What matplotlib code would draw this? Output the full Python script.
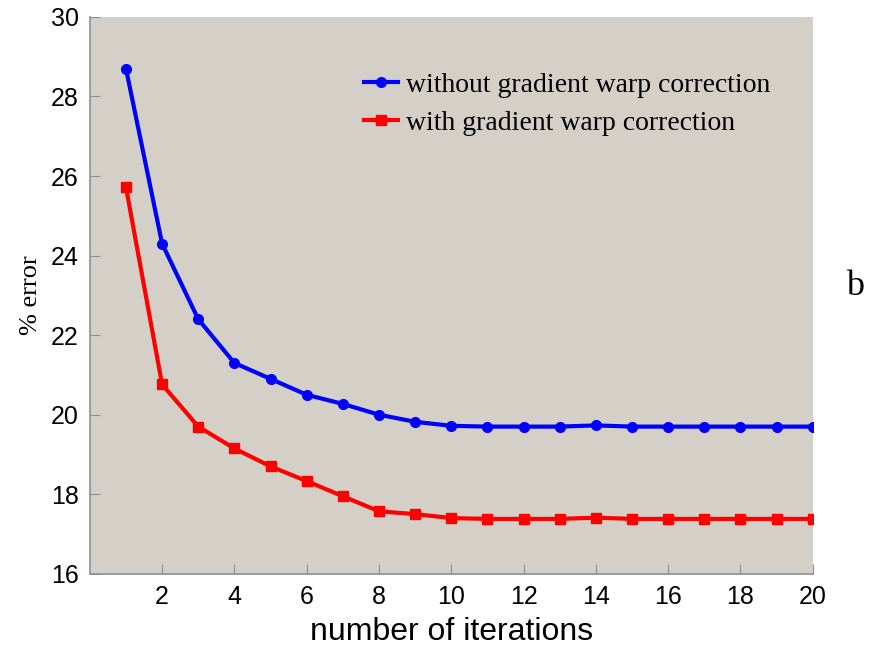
import matplotlib
matplotlib.use("Agg")
import matplotlib.pyplot as plt

iterations = list(range(1, 21))
without_gwc = [28.7, 24.3, 22.4, 21.3, 20.9, 20.5, 20.27, 20.0, 19.82, 19.72,
               19.7, 19.7, 19.7, 19.73, 19.7, 19.7, 19.7, 19.7, 19.7, 19.7]
with_gwc = [25.72, 20.76, 19.7, 19.15, 18.7, 18.33, 17.95, 17.57, 17.5, 17.4,
            17.38, 17.38, 17.38, 17.41, 17.38, 17.38, 17.38, 17.38, 17.38, 17.38]
xticks = list(range(2, 21, 2))
yticks = list(range(16, 31, 2))

fig = plt.figure(figsize=(8.72, 6.52), dpi=100)
ax = fig.add_axes([0.103, 0.120, 0.829, 0.854])
ax.set_facecolor("#d4d0c8")

ax.plot(iterations, without_gwc, color="#0000ff", lw=3, marker="o", ms=7,
        label="without gradient warp correction")
ax.plot(iterations, with_gwc, color="#ff0000", lw=3, marker="s", ms=7,
        label="with gradient warp correction")

ax.set_xlim(0, 20)
ax.set_ylim(16, 30)
ax.set_xticks(xticks)
ax.set_yticks(yticks)
ax.tick_params(direction="in", length=7, color="#909090", labelsize=18, pad=8)
for lab in ax.get_xticklabels() + ax.get_yticklabels():
    lab.set_family("Liberation Sans")

for s in ["top", "right"]:
    ax.spines[s].set_visible(False)
for s in ["left", "bottom"]:
    ax.spines[s].set_color("#909090")
    ax.spines[s].set_linewidth(1.2)

ax.set_xlabel("number of iterations", family="Liberation Sans", fontsize=23, labelpad=6)
ax.set_ylabel("% error", family="Liberation Serif", fontsize=19, labelpad=6)

leg = ax.legend(loc="upper left", bbox_to_anchor=(0.345, 0.945), frameon=False,
                prop={"family": "Liberation Serif", "size": 20},
                handlelength=1.2, handletextpad=0.3, labelspacing=0.45)

fig.text(0.98, 0.56, "b", family="Liberation Serif", fontsize=26, ha="center", va="center")

fig.savefig("out.png", dpi=100)
